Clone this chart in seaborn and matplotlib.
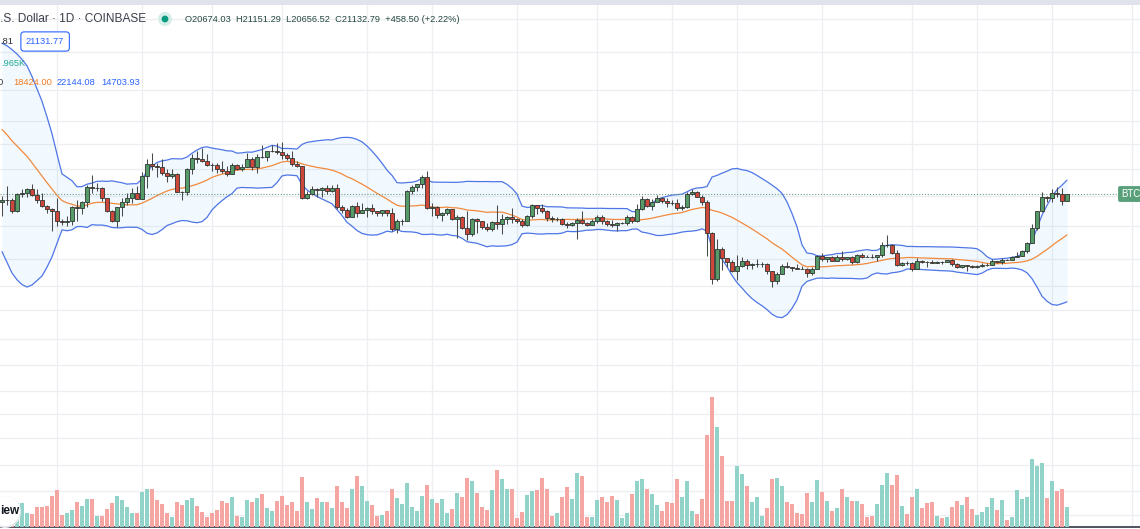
import numpy as np
import pandas as pd

import matplotlib as mpl
mpl.use('Agg')
import matplotlib.pyplot as plt
from matplotlib.patches import Ellipse, Rectangle
from matplotlib.ticker import NullLocator
import seaborn as sns

# BTC / USD, 1D, Coinbase -- 2022-06-20 .. 2023-01-19
start_day = '2022-06-20'

# closes of 2022-06-01 .. 2022-06-19, only needed to warm up the 20-day bands
warmup_close = [29800, 30440, 29700, 29860, 29900, 31370, 31130, 30200, 30110,
                29090, 28420, 26570, 22490, 22140, 22580, 20390, 20470, 19000,
                20550]

open_px = [
    20550, 20700, 20720, 19970, 21100, 21230, 21500, 21030, 20730, 20280,
    20100, 19940, 19300, 19250, 19300, 20230, 20180, 20560, 21630, 21590,
    21600, 20860, 19970, 19330, 20230, 20590, 20830, 21200, 20790, 22430,
    23400, 23230, 23160, 22680, 22460, 22580, 21310, 21250, 22950, 23850,
    23780, 23640, 23300, 23270, 22980, 22820, 22620, 23310, 22960, 23180,
    23810, 23160, 23950, 23940, 24400, 24440, 24300, 24100, 23850, 23340,
    23190, 20830, 21140, 21520, 21400, 21530, 21370, 21560, 20240, 20040,
    19550, 20290, 19800, 20050, 20130, 19950, 19830, 20000, 19800, 18790,
    19290, 19320, 21360, 21650, 21830, 22400, 20170, 20230, 19700, 19800,
    20110, 19420, 19540, 18880, 18490, 19400, 19300, 18920, 18800, 19220,
    19080, 19410, 19590, 19430, 19310, 19060, 19620, 20340, 20160, 19960,
    19530, 19420, 19440, 19130, 19060, 19160, 19380, 19180, 19070, 19270,
    19550, 19330, 19120, 19040, 19170, 19200, 19570, 19330, 20090, 20770,
    20290, 20600, 20820, 20630, 20490, 20480, 20160, 20210, 21150, 21300,
    20920, 20600, 18540, 15880, 17590, 17070, 16810, 16330, 16620, 16900,
    16670, 16690, 16700, 16710, 16290, 15780, 16180, 16600, 16520, 16460,
    16440, 16430, 16210, 16440, 17170, 16980, 17090, 16890, 17110, 16970,
    17090, 16840, 17230, 17130, 17130, 17090, 17210, 17780, 17810, 17360,
    16630, 16780, 16740, 16440, 16900, 16820, 16810, 16780, 16840, 16830,
    16920, 16700, 16540, 16630, 16600, 16540, 16610, 16670, 16670, 16850,
    16830, 16950, 16940, 17120, 17180, 17440, 17940, 18850, 19930, 20950,
    20880, 21180, 21130, 20674.03]

high_px = [
    20990, 21700, 20850, 21200, 21500, 21600, 21850, 21500, 21200, 20400,
    20150, 20870, 19420, 19650, 20330, 20720, 20660, 21820, 22500, 21940,
    21620, 20880, 20060, 20250, 20870, 21200, 21560, 21680, 22730, 23760,
    24270, 23430, 23780, 22990, 22990, 22660, 21350, 23060, 24200, 24440,
    24650, 24180, 23470, 23460, 23640, 23220, 23460, 23350, 23390, 24240,
    23930, 24200, 24920, 24450, 24890, 25050, 25210, 24240, 24450, 23600,
    23200, 21370, 21690, 21540, 21660, 21820, 21820, 21890, 20350, 20140,
    20400, 20580, 20480, 20200, 20440, 19970, 20030, 20050, 20180, 19460,
    19440, 21450, 21800, 21850, 22490, 22800, 20530, 20330, 19890, 20170,
    20120, 19690, 19640, 19950, 19510, 19500, 19310, 19180, 19310, 20380,
    19790, 19640, 20180, 19480, 19400, 19700, 20460, 20360, 20440, 20060,
    19620, 19560, 19520, 19260, 19220, 19520, 19950, 19230, 19420, 19690,
    19700, 19350, 19350, 19250, 19260, 19690, 19600, 20410, 20990, 20870,
    20750, 21080, 20930, 20830, 20700, 20800, 20400, 21300, 21480, 21360,
    21070, 20700, 18600, 18150, 17680, 17070, 16920, 17190, 17130, 16980,
    16740, 17000, 16820, 16750, 16300, 16260, 16700, 16800, 16530, 16680,
    16600, 16480, 16530, 17230, 17320, 17110, 17150, 17200, 17430, 17110,
    17140, 17300, 17360, 17230, 17270, 17240, 18000, 18390, 17850, 17530,
    16800, 16860, 16820, 17060, 16910, 16860, 16950, 16860, 16870, 16940,
    16970, 16780, 16660, 16640, 16640, 16630, 16760, 16780, 16990, 16880,
    17040, 16970, 17180, 17400, 17490, 17990, 19110, 19970, 21260, 21000,
    21470, 21650, 21600, 21151.29]

low_px = [
    19650, 20350, 19800, 19900, 20900, 20900, 21000, 20500, 20200, 19850,
    18650, 18980, 19020, 18960, 19050, 19300, 19770, 20260, 21200, 21340,
    20650, 19880, 19250, 18910, 19630, 20400, 20500, 20760, 20780, 21580,
    22900, 22350, 22530, 21980, 22270, 21270, 20720, 21050, 22580, 23420,
    23510, 23230, 22860, 22680, 22680, 22440, 22590, 22900, 22850, 23150,
    22880, 22680, 23870, 23590, 24310, 24180, 23780, 23700, 23190, 23110,
    20780, 20760, 21090, 20890, 20900, 21170, 21310, 20120, 19830, 19530,
    19550, 19550, 19800, 19570, 19780, 19660, 19600, 19640, 18650, 18550,
    19020, 19300, 21150, 21380, 21570, 20070, 19650, 19520, 19330, 19700,
    19380, 18230, 18790, 18130, 18370, 18550, 18820, 18640, 18680, 18820,
    18470, 19100, 19180, 19160, 18930, 19000, 19500, 19740, 19860, 19330,
    19260, 19320, 19020, 18860, 18970, 18150, 19080, 18980, 19060, 19160,
    19100, 19000, 18900, 18660, 19120, 19070, 19160, 19260, 20060, 20200,
    20000, 20570, 20530, 20240, 20360, 20060, 20040, 20190, 21080, 20890,
    20400, 17150, 15600, 15760, 16360, 16550, 16240, 15820, 16540, 16400,
    16420, 16560, 16550, 16180, 15480, 15630, 16170, 16460, 16310, 16400,
    16400, 16000, 16110, 16430, 16860, 16790, 16870, 16880, 16870, 16910,
    16680, 16740, 17060, 17090, 17070, 16870, 17080, 17660, 17280, 16580,
    16580, 16670, 16300, 16400, 16740, 16560, 16760, 16770, 16730, 16790,
    16590, 16460, 16490, 16330, 16470, 16490, 16550, 16600, 16660, 16750,
    16680, 16910, 16910, 17100, 17150, 17320, 17920, 18710, 19900, 20550,
    20600, 20900, 20400, 20656.52]

close_px = [
    20700, 20720, 19970, 21100, 21230, 21500, 21030, 20730, 20280, 20100,
    19940, 19300, 19250, 19300, 20230, 20180, 20560, 21630, 21590, 21600,
    20860, 19970, 19330, 20230, 20590, 20830, 21200, 20790, 22430, 23400,
    23230, 23160, 22680, 22460, 22580, 21310, 21250, 22950, 23850, 23780,
    23640, 23300, 23270, 22980, 22820, 22620, 23310, 22960, 23180, 23810,
    23160, 23950, 23940, 24400, 24440, 24300, 24100, 23850, 23340, 23190,
    20830, 21140, 21520, 21400, 21530, 21370, 21560, 20240, 20040, 19550,
    20290, 19800, 20050, 20130, 19950, 19830, 20000, 19800, 18790, 19290,
    19320, 21360, 21650, 21830, 22400, 20170, 20230, 19700, 19800, 20110,
    19420, 19540, 18880, 18490, 19400, 19300, 18920, 18800, 19220, 19080,
    19410, 19590, 19430, 19310, 19060, 19620, 20340, 20160, 19960, 19530,
    19420, 19440, 19130, 19060, 19160, 19380, 19180, 19070, 19270, 19550,
    19330, 19120, 19040, 19170, 19200, 19570, 19330, 20090, 20770, 20290,
    20600, 20820, 20630, 20490, 20480, 20160, 20210, 21150, 21300, 20920,
    20600, 18540, 15880, 17590, 17070, 16810, 16330, 16620, 16900, 16670,
    16690, 16700, 16710, 16290, 15780, 16180, 16600, 16520, 16460, 16440,
    16430, 16210, 16440, 17170, 16980, 17090, 16890, 17110, 16970, 17090,
    16840, 17230, 17130, 17128, 17090, 17210, 17780, 17810, 17360, 16630,
    16780, 16740, 16440, 16900, 16820, 16810, 16780, 16840, 16830, 16920,
    16700, 16540, 16630, 16600, 16540, 16610, 16670, 16670, 16850, 16830,
    16950, 16940, 17120, 17180, 17440, 17940, 18850, 19930, 20950, 20880,
    21180, 21130, 20670, 21132.79]

# volume bars, read as bar heights (screen units of the volume overlay)
volume = [
    20, 22, 26, 24, 24, 14, 13, 20, 20, 21, 31, 37, 12, 14, 17, 25, 21, 28,
    28, 11, 11, 18, 24, 31, 27, 20, 14, 14, 35, 38, 38, 27, 23, 14, 10, 25,
    22, 27, 29, 21, 15, 10, 14, 17, 26, 24, 30, 11, 10, 27, 25, 29, 33, 19,
    16, 26, 31, 22, 25, 16, 50, 25, 18, 29, 25, 25, 19, 41, 25, 19, 38, 51,
    41, 26, 22, 11, 12, 16, 38, 29, 23, 44, 20, 16, 31, 42, 28, 24, 28, 14,
    18, 34, 30, 49, 46, 34, 20, 17, 37, 57, 48, 38, 38, 9, 15, 32, 36, 37,
    49, 38, 11, 14, 30, 40, 28, 54, 51, 10, 10, 27, 30, 25, 31, 27, 9, 14,
    33, 46, 48, 38, 33, 22, 16, 25, 24, 48, 30, 46, 16, 13, 28, 92, 130, 100,
    71, 26, 26, 61, 53, 41, 25, 30, 11, 19, 48, 49, 41, 25, 23, 14, 13, 34,
    25, 47, 35, 26, 16, 19, 38, 30, 26, 26, 23, 10, 11, 23, 42, 54, 42, 52,
    21, 13, 30, 38, 19, 24, 25, 11, 9, 10, 20, 26, 22, 30, 18, 12, 15, 20,
    29, 17, 27, 7, 10, 37, 28, 30, 68, 61, 64, 29, 46, 36, 38, 20]

# time grid (month / half-month marks) and log price grid
grid_days = ['2022-07-01', '2022-07-18', '2022-08-01', '2022-08-15',
             '2022-09-01', '2022-09-14', '2022-10-01', '2022-10-17',
             '2022-11-01', '2022-11-14', '2022-12-01', '2022-12-19',
             '2023-01-01', '2023-01-16', '2023-02-01']
grid_prices = [38000, 34000, 30000, 27000, 25000, 23000, 21000, 19000, 17000,
               15500, 14300, 13000, 11900, 10900, 10100, 9300, 8500, 7800,
               7200]

UP, DOWN = '#559b68', '#cf473b'
VOL_UP, VOL_DOWN = '#92d3c9', '#f5a6a3'
W, H = 1140, 529


def fx(px):
    return px / W


def fy(py):
    return 1 - py / H


def dot(fig, px, py, r, color, z=10):
    fig.patches.append(Ellipse((fx(px), fy(py)), 2 * r / W, 2 * r / H,
                               transform=fig.transFigure, facecolor=color,
                               edgecolor='none', zorder=z))


def main():
    sns.set_theme(style='white')
    plt.rcParams['font.family'] = ['Liberation Sans', 'DejaVu Sans']

    n = len(close_px)
    idx = np.arange(n)
    o, h = np.array(open_px), np.array(high_px)
    l, c = np.array(low_px), np.array(close_px)
    is_up = c >= o

    all_close = pd.Series(warmup_close + close_px)
    basis = all_close.rolling(20).mean().values[-n:]
    dev = all_close.rolling(20).std(ddof=0).values[-n:]
    upper, lower = basis + 2 * dev, basis - 2 * dev

    fig = plt.figure(figsize=(W / 100, H / 100), dpi=100)
    fig.patch.set_facecolor('white')
    ax = fig.add_axes([0, 2 / H, 1, 527 / H])
    ax.set_facecolor('white')

    ax.set_yscale('log')
    ax.set_ylim(6904, 40557)
    ax.set_yticks(grid_prices)
    ax.yaxis.set_minor_locator(NullLocator())
    grid_pos = (pd.to_datetime(grid_days) - pd.Timestamp(start_day)).days
    ax.set_xticks(np.asarray(grid_pos, dtype=float))
    ax.grid(True, color='#eceef2', linewidth=0.9)
    ax.tick_params(length=0, labelleft=False, labelbottom=False)
    for side in ['top', 'left', 'right']:
        ax.spines[side].set_visible(False)
    ax.spines['bottom'].set_color('#50535e')
    ax.spines['bottom'].set_linewidth(1.4)

    # bollinger bands
    ax.fill_between(idx, lower, upper, color='#2196f3', alpha=0.06,
                    linewidth=0, zorder=1)
    sns.lineplot(x=idx, y=upper, ax=ax, color='#4f76e6', linewidth=0.9,
                 zorder=2)
    sns.lineplot(x=idx, y=lower, ax=ax, color='#4f76e6', linewidth=0.9,
                 zorder=2)
    sns.lineplot(x=idx, y=basis, ax=ax, color='#f28a3d', linewidth=0.9,
                 zorder=2)

    # candles
    ax.vlines(idx, l, h, color='#4a4a4a', linewidth=0.75, zorder=3)
    body_lo = np.minimum(o, c)
    body_hi = np.maximum(o, c)
    ax.bar(idx, body_hi - body_lo, bottom=body_lo, width=0.72,
           color=np.where(is_up, UP, DOWN), edgecolor='#2f3530',
           linewidth=0.6, zorder=4)

    ax.axhline(c[-1], color='#6b9f82', linestyle=(0, (1, 1.6)),
               linewidth=0.8, zorder=2)

    # volume overlay, drawn over the grid
    ax2 = ax.twinx()
    ax2.patch.set_visible(False)
    vol_dir = np.where(is_up, 'up', 'down')
    sns.barplot(x=idx, y=volume, hue=vol_dir, ax=ax2, native_scale=True,
                palette={'up': VOL_UP, 'down': VOL_DOWN}, dodge=False,
                legend=False, errorbar=None, width=0.72, saturation=1,
                linewidth=0)
    ax2.set_ylim(0, 527)
    ax2.set_axis_off()

    ax.set_xlim(-0.4, (W - 2) / 5)
    ax2.set_xlim(-0.4, (W - 2) / 5)

    # top bar
    fig.patches.append(Rectangle((0, fy(5)), 1, 5 / H,
                                 transform=fig.transFigure,
                                 facecolor='#e0e3eb', edgecolor='none',
                                 zorder=10))

    # legend header
    fig.text(fx(146), fy(19), 'Bitcoin / U.S. Dollar \u00b7 1D \u00b7 COINBASE',
             ha='right', va='center', fontsize=8.6, color='#3b3f48')
    dot(fig, 165, 19, 7, '#d5eee7')
    dot(fig, 165, 19, 3.4, '#089981', z=11)
    fig.text(fx(185), fy(20),
             'O20674.03  H21151.29  L20656.52  C21132.79  +458.50 (+2.22%)',
             ha='left', va='center', fontsize=6.7, color='#26483f')

    fig.text(fx(0), fy(41), '.81', ha='left', va='center', fontsize=6.7,
             color='#2a2e39')
    fig.text(fx(26), fy(41.5), '21131.77', ha='left', va='center',
             fontsize=6.7, color='#2962ff',
             bbox=dict(boxstyle='round,pad=0.55,rounding_size=0.35',
                       facecolor='white', edgecolor='#2962ff',
                       linewidth=0.8))
    fig.text(fx(1), fy(64), '.965K', ha='left', va='center', fontsize=6.7,
             color='#22ab94')
    fig.text(fx(-2), fy(83), '0', ha='left', va='center', fontsize=6.7,
             color='#2a2e39')
    fig.text(fx(13), fy(83), '18424.00', ha='left', va='center',
             fontsize=6.7, color='#f57c1f')
    fig.text(fx(57), fy(83), '22144.08', ha='left', va='center',
             fontsize=6.7, color='#2962ff')
    fig.text(fx(101), fy(83), '14703.93', ha='left', va='center',
             fontsize=6.7, color='#2962ff')

    # symbol label on the last price line
    fig.text(fx(1121), fy(194), 'BTC', ha='left', va='center', fontsize=7,
             color='white',
             bbox=dict(boxstyle='round,pad=0.3,rounding_size=0.2',
                       facecolor='#58a07a', edgecolor='none'))

    # logo bubble bottom-left
    dot(fig, 5, 512, 16, '#e6e8ec', z=11)
    dot(fig, 5, 511, 15, 'white', z=12)
    fig.text(fx(0), fy(511), 'iew', ha='left', va='center', fontsize=8.5,
             weight='bold', color='#131722', zorder=13)

    fig.savefig('out.png', dpi=100, facecolor='white')
    plt.close()


if __name__ == '__main__':
    main()
